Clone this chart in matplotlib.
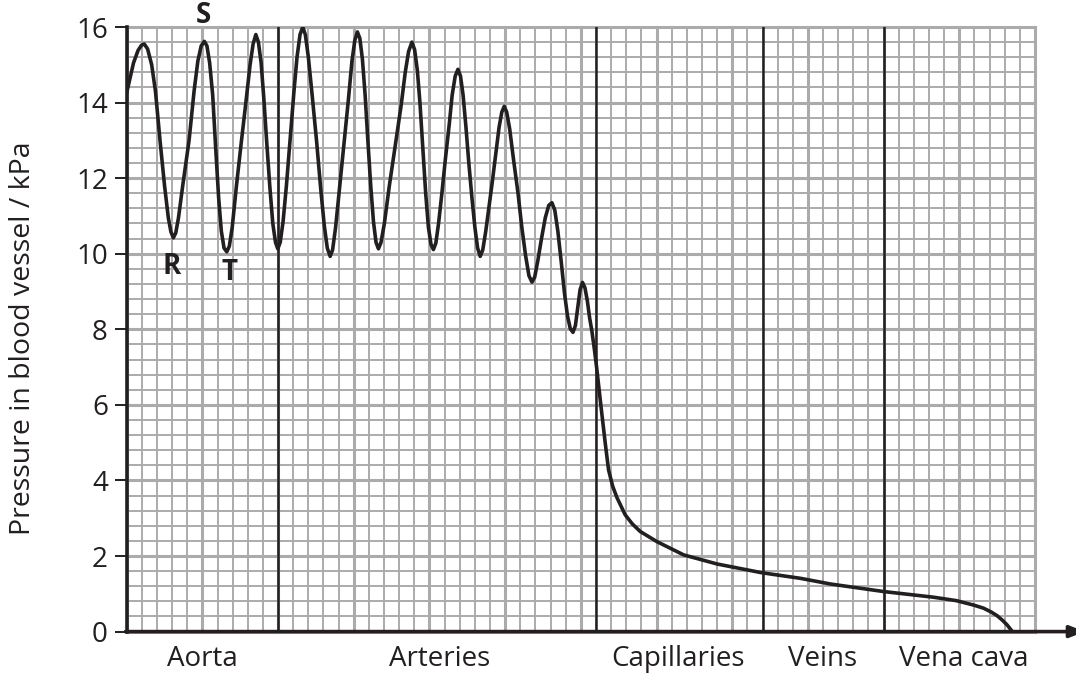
import numpy as np
import matplotlib
matplotlib.use("Agg")
import matplotlib.pyplot as plt

plt.rcParams['font.family'] = ['Open Sans', 'DejaVu Sans']

# pressure trace (x in grid squares, y in kPa)
pos = [0.0, 0.22, 0.45, 0.75, 0.98, 1.16, 1.38, 1.65, 1.9, 2.2, 2.5, 2.75, 2.92, 3.08, 3.24,
       3.42, 3.7, 4.12, 4.45, 4.7, 4.92, 5.13, 5.3, 5.48, 5.68, 5.87, 6.07, 6.25, 6.43, 6.61,
       6.78, 6.97, 7.25, 7.57, 7.9, 8.15, 8.35, 8.53, 8.7, 8.88, 9.06, 9.25, 9.45, 9.65, 9.83,
       9.98, 10.14, 10.33, 10.55, 10.8, 11.05, 11.25, 11.45, 11.63, 11.8, 12.0, 12.25, 12.55,
       12.82, 13.05, 13.25, 13.44, 13.6, 13.8, 14.05, 14.35, 14.65, 14.88, 15.07, 15.24, 15.4,
       15.57, 15.75, 15.93, 16.12, 16.3, 16.47, 16.63, 16.8, 17.02, 17.35, 17.75, 18.12, 18.4,
       18.62, 18.84, 19.02, 19.2, 19.37, 19.55, 19.75, 19.93, 20.1, 20.26, 20.42, 20.6, 20.82,
       21.05, 21.3, 21.5, 21.7, 21.88, 22.05, 22.22, 22.4, 22.6, 22.8, 23.0, 23.18, 23.35,
       23.52, 23.72, 23.95, 24.15, 24.4, 24.6, 24.78, 24.94, 25.1, 25.3, 25.55, 25.85, 26.1,
       26.35, 26.57, 26.77, 26.95, 27.15, 27.4, 27.65, 27.88, 28.09, 28.28, 28.48, 28.7, 28.92,
       29.12, 29.3, 29.48, 29.64, 29.8, 29.95, 30.11, 30.27, 30.43, 30.58, 30.73, 30.9, 31.06,
       31.33, 31.61, 31.83, 32.1, 32.38, 32.93, 33.4, 33.92, 35.03, 36.79, 38.99, 41.92, 44.5,
       46.48, 50.0, 53.3, 54.8, 55.96, 56.6, 57.1, 57.5, 57.85, 58.15, 58.35, 58.5]
pressure = [14.26, 14.65, 15.05, 15.38, 15.52, 15.55, 15.42, 15.0, 14.3, 13.0, 11.8, 10.95,
            10.58, 10.42, 10.55, 10.95, 11.8, 13.0, 14.3, 15.1, 15.5, 15.62, 15.5, 15.05, 14.2,
            12.85, 11.5, 10.6, 10.15, 10.05, 10.2, 10.7, 11.8, 12.95, 14.1, 15.0, 15.55, 15.8,
            15.6, 15.05, 14.1, 12.95, 11.8, 10.8, 10.3, 10.13, 10.3, 10.85, 11.8, 13.05, 14.3,
            15.2, 15.8, 16.0, 15.8, 15.2, 14.2, 12.95, 11.7, 10.75, 10.15, 9.93, 10.1, 10.7,
            11.7, 12.9, 14.1, 15.1, 15.65, 15.87, 15.7, 15.15, 14.2, 13.0, 11.8, 10.85, 10.3,
            10.13, 10.3, 10.8, 11.8, 12.9, 13.9, 14.8, 15.35, 15.6, 15.4, 14.85, 14.0, 12.85,
            11.6, 10.7, 10.25, 10.11, 10.28, 10.8, 11.6, 12.5, 13.4, 14.2, 14.7, 14.88, 14.7,
            14.2, 13.4, 12.4, 11.5, 10.7, 10.15, 9.93, 10.1, 10.6, 11.3, 11.9, 12.7, 13.35,
            13.75, 13.9, 13.75, 13.3, 12.5, 11.6, 10.7, 9.95, 9.42, 9.25, 9.38, 9.8, 10.4,
            10.95, 11.28, 11.35, 11.15, 10.6, 9.8, 8.95, 8.35, 8.02, 7.92, 8.1, 8.6, 9.05, 9.24,
            9.1, 8.75, 8.3, 7.95, 7.45, 6.93, 5.96, 4.99, 4.28, 3.85, 3.55, 3.09, 2.85, 2.65,
            2.38, 2.03, 1.79, 1.56, 1.41, 1.26, 1.06, 0.91, 0.82, 0.70, 0.62, 0.52, 0.42, 0.3,
            0.18, 0.08, 0.0]

regions = ["Aorta", "Arteries", "Capillaries", "Veins", "Vena cava"]
region_centres = [5.0, 20.7, 36.4, 45.95, 55.3]
boundaries = [10, 31, 42, 50]
yticks = [0, 2, 4, 6, 8, 10, 12, 14, 16]

fig = plt.figure(figsize=(10.76, 6.73), dpi=100)
ax = fig.add_axes([126.7 / 1076, 41.4 / 673, (1035 - 126.7) / 1076, (631.6 - 27) / 673])
ax.set_xlim(0, 60)
ax.set_ylim(0, 16)

grey = "#ababab"
ink = "#231f20"
# graph paper
for gx in range(0, 61):
    lw = 2.2 if gx % 5 == 0 else 1.4
    ax.plot([gx, gx], [0, 16], color=grey, lw=lw, zorder=1, clip_on=False)
for i in range(0, 41):
    gy = i * 0.4
    lw = 2.2 if i % 5 == 0 else 1.4
    ax.plot([0, 60], [gy, gy], color=grey, lw=lw, zorder=1, clip_on=False)

for b in boundaries:
    ax.plot([b, b], [0, 16], color=ink, lw=1.8, zorder=2)

ax.plot(pos, pressure, color=ink, lw=2.6, zorder=3, solid_capstyle='round',
        solid_joinstyle='round')

for s in ["top", "right", "bottom"]:
    ax.spines[s].set_visible(False)
ax.spines["left"].set_linewidth(2.6)
ax.spines["left"].set_color(ink)
ax.spines["left"].set_zorder(4)

# x axis with arrow
ax.annotate("", xy=(63.3, 0), xytext=(-0.08, 0),
            arrowprops=dict(arrowstyle="-|>,head_length=0.9,head_width=0.35",
                            color=ink, lw=2.6, shrinkA=0, shrinkB=0),
            annotation_clip=False, zorder=5)

ax.set_xticks([])
ax.set_yticks(yticks)
ax.set_yticklabels([str(t) for t in yticks], fontsize=20, color=ink)
ax.tick_params(axis="y", length=8.5, width=1.4, color=ink, pad=5)
fig.text(23 / 1076, 0.497, "Pressure in blood vessel / kPa", rotation=90,
         ha="center", va="center", fontsize=20.5, color=ink)

for name, xc in zip(regions, region_centres):
    ax.text(xc, -0.73, name, ha="center", va="center", fontsize=20, color=ink, clip_on=False)

ax.text(3.0, 9.65, "R", ha="center", va="center", fontsize=20, fontweight="bold", color=ink)
ax.text(5.05, 16.3, "S", ha="center", va="center", fontsize=20, fontweight="bold", color=ink,
        clip_on=False)
ax.text(6.77, 9.5, "T", ha="center", va="center", fontsize=20, fontweight="bold", color=ink)

fig.savefig("out.png", dpi=100)
